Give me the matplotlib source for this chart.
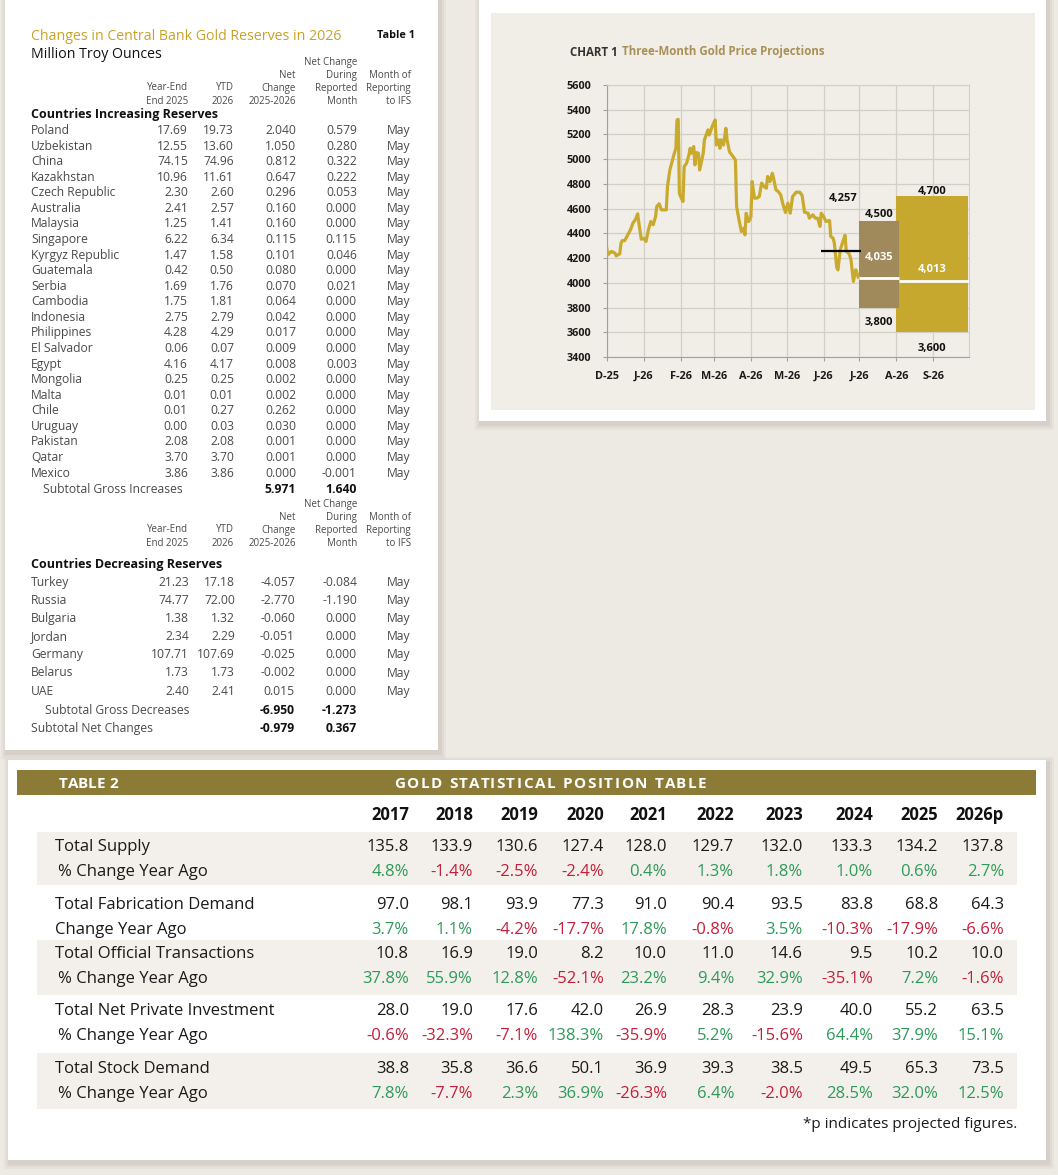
import numpy as np
import pandas as pd
import matplotlib
matplotlib.use("Agg")
import matplotlib.pyplot as plt
import matplotlib.dates as mdates
from matplotlib.patches import Rectangle
from matplotlib.font_manager import FontProperties

plt.rcParams['font.family'] = ['Open Sans', 'DejaVu Sans']

W, H = 1058, 1175

# ---------------- Table 1 data ----------------
inc_countries = ["Poland", "Uzbekistan", "China", "Kazakhstan", "Czech Republic", "Australia",
                 "Malaysia", "Singapore", "Kyrgyz Republic", "Guatemala", "Serbia", "Cambodia",
                 "Indonesia", "Philippines", "El Salvador", "Egypt", "Mongolia", "Malta", "Chile",
                 "Uruguay", "Pakistan", "Qatar", "Mexico"]
inc_year_end = [17.69, 12.55, 74.15, 10.96, 2.30, 2.41, 1.25, 6.22, 1.47, 0.42, 1.69, 1.75,
                2.75, 4.28, 0.06, 4.16, 0.25, 0.01, 0.01, 0.00, 2.08, 3.70, 3.86]
inc_ytd = [19.73, 13.60, 74.96, 11.61, 2.60, 2.57, 1.41, 6.34, 1.58, 0.50, 1.76, 1.81,
           2.79, 4.29, 0.07, 4.17, 0.25, 0.01, 0.27, 0.03, 2.08, 3.70, 3.86]
inc_net = [2.040, 1.050, 0.812, 0.647, 0.296, 0.160, 0.160, 0.115, 0.101, 0.080, 0.070, 0.064,
           0.042, 0.017, 0.009, 0.008, 0.002, 0.002, 0.262, 0.030, 0.001, 0.001, 0.000]
inc_month = [0.579, 0.280, 0.322, 0.222, 0.053, 0.000, 0.000, 0.115, 0.046, 0.000, 0.021, 0.000,
             0.000, 0.000, 0.000, 0.003, 0.000, 0.000, 0.000, 0.000, 0.000, 0.000, -0.001]
inc_report = ["May"] * len(inc_countries)
inc_subtotal = [5.971, 1.640]

dec_countries = ["Turkey", "Russia", "Bulgaria", "Jordan", "Germany", "Belarus", "UAE"]
dec_year_end = [21.23, 74.77, 1.38, 2.34, 107.71, 1.73, 2.40]
dec_ytd = [17.18, 72.00, 1.32, 2.29, 107.69, 1.73, 2.41]
dec_net = [-4.057, -2.770, -0.060, -0.051, -0.025, -0.002, 0.015]
dec_month = [-0.084, -1.190, 0.000, 0.000, 0.000, 0.000, 0.000]
dec_report = ["May"] * len(dec_countries)
dec_subtotal = [-6.950, -1.273]
net_subtotal = [-0.979, 0.367]

# ---------------- Chart 1 data ----------------
price_dates = ["2025-12-01", "2025-12-02", "2025-12-05", "2025-12-08", "2025-12-09", "2025-12-12",
               "2025-12-13", "2025-12-14", "2025-12-16", "2025-12-18", "2025-12-21", "2025-12-23",
               "2025-12-25", "2025-12-27", "2025-12-28", "2025-12-30", "2026-01-01", "2026-01-03",
               "2026-01-05", "2026-01-07", "2026-01-09", "2026-01-11", "2026-01-12", "2026-01-14",
               "2026-01-16", "2026-01-18", "2026-01-20", "2026-01-21", "2026-01-23", "2026-01-26",
               "2026-01-28", "2026-01-29", "2026-01-30", "2026-01-31", "2026-02-01", "2026-02-03",
               "2026-02-04", "2026-02-06", "2026-02-08", "2026-02-09", "2026-02-10", "2026-02-12",
               "2026-02-13", "2026-02-14", "2026-02-16", "2026-02-17", "2026-02-20", "2026-02-21",
               "2026-02-24", "2026-02-25", "2026-02-27", "2026-02-28", "2026-03-02", "2026-03-03",
               "2026-03-05", "2026-03-06", "2026-03-07", "2026-03-09", "2026-03-11", "2026-03-12",
               "2026-03-14", "2026-03-17", "2026-03-19", "2026-03-20", "2026-03-22", "2026-03-24",
               "2026-03-26", "2026-03-27", "2026-03-28", "2026-03-30", "2026-03-31", "2026-04-01",
               "2026-04-02", "2026-04-04", "2026-04-06", "2026-04-08", "2026-04-10", "2026-04-12",
               "2026-04-14", "2026-04-15", "2026-04-17", "2026-04-19", "2026-04-20", "2026-04-22",
               "2026-04-24", "2026-04-26", "2026-04-28", "2026-04-30", "2026-05-02", "2026-05-04",
               "2026-05-06", "2026-05-09", "2026-05-12", "2026-05-14", "2026-05-16", "2026-05-19",
               "2026-05-20", "2026-05-23", "2026-05-25", "2026-05-27", "2026-05-29", "2026-05-30",
               "2026-06-01", "2026-06-03", "2026-06-06", "2026-06-07", "2026-06-09", "2026-06-10",
               "2026-06-12", "2026-06-13", "2026-06-15", "2026-06-17", "2026-06-19", "2026-06-20",
               "2026-06-22", "2026-06-23", "2026-06-24", "2026-06-26", "2026-06-28", "2026-06-29",
               "2026-06-30"]
gold_price = [4281, 4227, 4254, 4240, 4218, 4235, 4320, 4342, 4340, 4375, 4430, 4483,
              4510, 4558, 4483, 4353, 4361, 4335, 4429, 4496, 4469, 4536, 4617, 4639,
              4590, 4590, 4590, 4779, 4913, 5021, 5088, 5317, 5322, 4725, 4698, 4658,
              4940, 4967, 5034, 5088, 5048, 5102, 4954, 5054, 5048, 4913, 5048, 5156,
              5237, 5196, 5250, 5277, 5317, 5115, 5156, 5088, 5156, 5115, 5250, 5156,
              5061, 5021, 4994, 4617, 4510, 4415, 4442, 4388, 4563, 4496, 4510, 4536,
              4819, 4685, 4685, 4698, 4806, 4779, 4765, 4860, 4819, 4886, 4846, 4752,
              4738, 4711, 4631, 4569, 4644, 4563, 4698, 4733, 4733, 4706, 4571, 4563,
              4523, 4550, 4523, 4523, 4456, 4563, 4536, 4496, 4504, 4375, 4361, 4321,
              4127, 4105, 4267, 4330, 4385, 4254, 4240, 4219, 4186, 4011, 4105, 4078,
              4046]
month_labels = ["D-25", "J-26", "F-26", "M-26", "A-26", "M-26", "J-26", "J-26", "A-26", "S-26"]

proj_start = ["2026-08-01", "2026-07-01"]
proj_end = ["2026-09-30", "2026-08-03"]
proj_high = [4700, 4500]
proj_low = [3600, 3800]
proj_mid = [4013, 4035]
proj_colors = ["#C6A82F", "#A08A5C"]
avg_level = 4257
avg_start, avg_end = "2026-05-30", "2026-07-02"

# ---------------- Table 2 data ----------------
years = ["2017", "2018", "2019", "2020", "2021", "2022", "2023", "2024", "2025", "2026p"]
t2_labels = ["Total Supply", "% Change Year Ago", "Total Fabrication Demand", "Change Year Ago",
             "Total Official Transactions", "% Change Year Ago", "Total Net Private Investment",
             "% Change Year Ago", "Total Stock Demand", "% Change Year Ago"]
supply = [135.8, 133.9, 130.6, 127.4, 128.0, 129.7, 132.0, 133.3, 134.2, 137.8]
supply_chg = [4.8, -1.4, -2.5, -2.4, 0.4, 1.3, 1.8, 1.0, 0.6, 2.7]
fabrication = [97.0, 98.1, 93.9, 77.3, 91.0, 90.4, 93.5, 83.8, 68.8, 64.3]
fabrication_chg = [3.7, 1.1, -4.2, -17.7, 17.8, -0.8, 3.5, -10.3, -17.9, -6.6]
official = [10.8, 16.9, 19.0, 8.2, 10.0, 11.0, 14.6, 9.5, 10.2, 10.0]
official_chg = [37.8, 55.9, 12.8, -52.1, 23.2, 9.4, 32.9, -35.1, 7.2, -1.6]
private = [28.0, 19.0, 17.6, 42.0, 26.9, 28.3, 23.9, 40.0, 55.2, 63.5]
private_chg = [-0.6, -32.3, -7.1, 138.3, -35.9, 5.2, -15.6, 64.4, 37.9, 15.1]
stock = [38.8, 35.8, 36.6, 50.1, 36.9, 39.3, 38.5, 49.5, 65.3, 73.5]
stock_chg = [7.8, -7.7, 2.3, 36.9, -26.3, 6.4, -2.0, 28.5, 32.0, 12.5]
t2_rows = [supply, supply_chg, fabrication, fabrication_chg, official, official_chg,
           private, private_chg, stock, stock_chg]

BG = "#EDE9E3"
PANEL = "#F1EDE7"
GOLD = "#C9AA2C"
GREEN = "#2E9A5A"
RED = "#C41E3A"

fig = plt.figure(figsize=(W / 100, H / 100), dpi=100, facecolor=BG)
bg = fig.add_axes([0, 0, 1, 1])
bg.set_xlim(0, W)
bg.set_ylim(H, 0)
bg.axis("off")


def txt(x, y, s, size=8.7, color="#4A4A4A", ha="left", weight="normal", **kw):
    bg.text(x, y, s, fontsize=size, color=color, ha=ha, va="center_baseline",
            fontweight=weight, **kw)


def card(x0, y0, x1, y1):
    for k, a in [(6, 0.06), (4, 0.08), (2, 0.10)]:
        bg.add_patch(Rectangle((x0 - k + 2, y0 - k + 3), x1 - x0 + 2 * k, y1 - y0 + 2 * k,
                               color="#8A8070", alpha=a, lw=0))
    bg.add_patch(Rectangle((x0, y0), x1 - x0, y1 - y0, color="white", lw=0))


renderer = fig.canvas.get_renderer()


def spaced(x, y, s, size, target, ha="left"):
    # letter-spaced bold caps stretched to a target pixel width
    fp = FontProperties(family=['Liberation Sans Narrow', 'Open Sans', 'DejaVu Sans'],
                        weight="bold", size=size)
    wI = renderer.get_text_width_height_descent("I", fp, ismath=False)[0]
    natural = renderer.get_text_width_height_descent(s, fp, ismath=False)[0]
    spacing = (target - natural) / (len(s) - 1)
    x0 = x - target / 2 if ha == "center" else x
    for i, ch in enumerate(s):
        if ch == " ":
            continue
        o = renderer.get_text_width_height_descent(s[:i] + "I", fp, ismath=False)[0] - wI
        bg.text(x0 + o + i * spacing, y, ch, fontproperties=fp, color="white", ha="left",
                va="center_baseline")


# ---------------- cards ----------------
card(5, -10, 438, 750)
card(479, -10, 1046, 421)
card(8, 760, 1046, 1160)

grad = np.linspace(0, 1, 200).reshape(-1, 1)
top_c = np.array([0.982, 0.979, 0.972])
bot_c = np.array([0.935, 0.930, 0.918])
img = top_c + (bot_c - top_c) * grad[:, :, None]
bg.imshow(img, extent=(17, 424, 739, 70), aspect="auto", zorder=0.5)
bg.set_xlim(0, W)
bg.set_ylim(H, 0)

bg.add_patch(Rectangle((491, 13), 544, 397, color=PANEL, lw=0))

# ---------------- Table 1 ----------------
txt(31, 35, "Changes in Central Bank Gold Reserves in 2026", size=10.2, color="#C9A227")
txt(31, 52, "Million Troy Ounces", size=10.2, color="#111111")
txt(415, 34, "Table 1", size=7.8, color="#111111", ha="right", weight="bold")

cols = [188, 234, 296, 357, 411]


def header(y0):
    hc = "#4A4A4A"
    txt(cols[3], y0, "Net Change", size=7, color=hc, ha="right")
    for c, s in zip(cols[2:], ["Net", "During", "Month of"]):
        txt(c, y0 + 13, s, size=7, color=hc, ha="right")
    for c, s in zip(cols, ["Year-End", "YTD", "Change", "Reported", "Reporting"]):
        txt(c, y0 + 25.5, s, size=7, color=hc, ha="right")
    for c, s in zip(cols, ["End 2025", "2026", "2025-2026", "Month", "to IFS"]):
        txt(c, y0 + 38.5, s, size=7, color=hc, ha="right")


header(61)
txt(31, 113, "Countries Increasing Reserves", size=9, color="#111111", weight="bold")
for i, name in enumerate(inc_countries):
    y = 129 + i * 15.57
    txt(31, y, name)
    txt(cols[0], y, f"{inc_year_end[i]:.2f}", ha="right")
    txt(cols[1], y, f"{inc_ytd[i]:.2f}", ha="right")
    txt(cols[2], y, f"{inc_net[i]:.3f}", ha="right")
    txt(cols[3], y, f"{inc_month[i]:.3f}", ha="right")
    txt(cols[4], y, inc_report[i], ha="right")
txt(43, 488, "Subtotal Gross Increases")
txt(cols[2], 488, f"{inc_subtotal[0]:.3f}", ha="right", weight="bold", color="#111111")
txt(cols[3], 488, f"{inc_subtotal[1]:.3f}", ha="right", weight="bold", color="#111111")

header(503)
txt(31, 563, "Countries Decreasing Reserves", size=9, color="#111111", weight="bold")
for i, name in enumerate(dec_countries):
    y = 581 + i * 18.1
    txt(31, y, name)
    txt(cols[0] + 1, y, f"{dec_year_end[i]:.2f}", ha="right")
    txt(cols[1] + 1, y, f"{dec_ytd[i]:.2f}", ha="right")
    txt(cols[2] - 1, y, f"{dec_net[i]:.3f}", ha="right")
    txt(cols[3], y, f"{dec_month[i]:.3f}", ha="right")
    txt(cols[4], y, dec_report[i], ha="right")
txt(45, 709, "Subtotal Gross Decreases")
txt(cols[2] - 1, 709, f"{dec_subtotal[0]:.3f}", ha="right", weight="bold", color="#111111")
txt(cols[3], 709, f"{dec_subtotal[1]:.3f}", ha="right", weight="bold", color="#111111")
txt(31, 727, "Subtotal Net Changes")
txt(cols[2] - 1, 727, f"{net_subtotal[0]:.3f}", ha="right", weight="bold", color="#111111")
txt(cols[3], 727, f"{net_subtotal[1]:.3f}", ha="right", weight="bold", color="#111111")

# ---------------- Chart 1 ----------------
txt(570, 51, "CHART 1", size=8.3, color="#333333", weight="bold")
txt(622, 50, "Three-Month Gold Price Projections", size=8.3, color="#A99155", weight="bold")

ax = fig.add_axes([606.7 / W, 1 - 357 / H, 362.3 / W, 272 / H])
ax.set_facecolor(PANEL)
ax.set_axisbelow(True)
dates = pd.to_datetime(price_dates)
ax.plot(dates, gold_price, color=GOLD, lw=2.3, zorder=3, solid_joinstyle="round")

for s, e, hi, lo, mid, c in zip(proj_start, proj_end, proj_high, proj_low, proj_mid, proj_colors):
    x0 = mdates.date2num(pd.Timestamp(s))
    x1 = mdates.date2num(pd.Timestamp(e))
    ax.bar(x0, hi - lo, width=x1 - x0, bottom=lo, align="edge", color=c, lw=0, zorder=2)
ax.hlines(proj_mid[1], pd.Timestamp(proj_start[1]), pd.Timestamp(proj_end[1]), color="white",
          lw=2, zorder=4)
ax.hlines(proj_mid[0], pd.Timestamp(proj_end[1]), pd.Timestamp("2026-10-01"), color="white",
          lw=2, zorder=4)
ax.hlines(avg_level, pd.Timestamp(avg_start), pd.Timestamp(avg_end), color="black", lw=1.6,
          zorder=4)

lab_kw = dict(textcoords="offset points", ha="center", va="center", fontsize=8,
              fontweight="bold", zorder=5)
for s, e, hi, lo, mid, up_off, mid_off, lo_off in zip(proj_start, proj_end, proj_high, proj_low,
                                                      proj_mid, [5, 7], [12, 21], [-16, -14.5]):
    xc = pd.Timestamp(s) + (pd.Timestamp(e) - pd.Timestamp(s)) / 2
    ax.annotate(f"{hi:,}", (xc, hi), xytext=(0, up_off * 0.72), color="#111111", **lab_kw)
    ax.annotate(f"{mid:,}", (xc, mid), xytext=(0, mid_off * 0.72), color="white", **lab_kw)
    ax.annotate(f"{lo:,}", (xc, lo), xytext=(0, lo_off * 0.72), color="#111111", **lab_kw)
ax.annotate(f"{avg_level:,}", (pd.Timestamp("2026-06-15"), avg_level), xytext=(2, 53 * 0.72),
            color="#111111", **lab_kw)

ax.set_xlim(pd.Timestamp("2025-12-01"), pd.Timestamp("2026-10-01"))
ax.set_ylim(3400, 5600)
ax.set_yticks(range(3400, 5601, 200))
ax.set_xticks(pd.date_range("2025-12-01", "2026-09-01", freq="MS"))
ax.set_xticklabels(month_labels)
ax.grid(True, color="#D2CEC8", lw=0.9)
ax.tick_params(labelsize=7.8, colors="#1A1A1A", length=3, width=0.8)
ax.tick_params(axis="y", pad=8)
ax.tick_params(axis="x", pad=7)
ax.tick_params(color="#A0A0A0")
for lbl in ax.get_xticklabels() + ax.get_yticklabels():
    lbl.set_fontweight("bold")
for side in ["left", "bottom"]:
    ax.spines[side].set_color("#A0A0A0")
for side in ["top", "right"]:
    ax.spines[side].set_color("#D2CEC8")

# ---------------- Table 2 ----------------
bg.add_patch(Rectangle((17, 770), 1019, 25, color="#8B7B36", lw=0))
spaced(59, 782, "TABLE 2", 11, 59)
spaced(550, 782, "GOLD STATISTICAL POSITION TABLE", 11, 312, ha="center")

for y0, y1 in [(832, 885), (940, 995), (1053, 1109)]:
    bg.add_patch(Rectangle((37, y0), 980, y1 - y0, color="#F3F0EB", lw=0))

t2_cols = [409, 473, 538, 604, 667, 734, 803, 873, 938, 1004]
for c, yr in zip(t2_cols, years):
    txt(c, 813, yr, size=12, color="#111111", ha="right", weight="bold")

row_y = [845, 870, 903, 928, 952, 977, 1009, 1034, 1067, 1092]
for lab, vals, y in zip(t2_labels, t2_rows, row_y):
    is_pct = "Change" in lab
    txt(58 if lab.startswith("%") else 55, y, lab, size=12, color="#1A1A1A")
    for c, v in zip(t2_cols, vals):
        if is_pct:
            txt(c, y, f"{v:.1f}%", size=12, color=GREEN if v >= 0 else RED, ha="right")
        else:
            txt(c, y, f"{v:.1f}", size=12, color="#1A1A1A", ha="right")
txt(1017, 1123, "*p indicates projected figures.", size=11, color="#1A1A1A", ha="right")

fig.savefig("out.png", dpi=100, facecolor=BG)
